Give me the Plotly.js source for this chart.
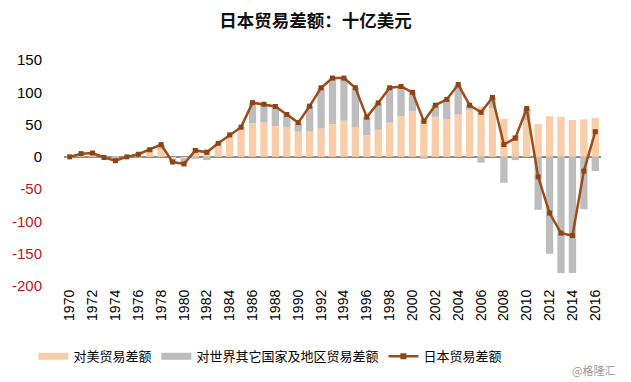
<!DOCTYPE html>
<html>
<head>
<meta charset="utf-8">
<script src="https://cdn.plot.ly/plotly-3.0.1.min.js"></script>
<style>html,body{margin:0;padding:0;background:#fff;}#chart{width:631px;height:382px;}</style>
</head>
<body>
<div id="chart"></div>
<script>
const years = [1970,1971,1972,1973,1974,1975,1976,1977,1978,1979,1980,1981,1982,1983,1984,1985,1986,1987,1988,1989,1990,1991,1992,1993,1994,1995,1996,1997,1998,1999,2000,2001,2002,2003,2004,2005,2006,2007,2008,2009,2010,2011,2012,2013,2014,2015,2016];
const usBalance = [1,3,4,1,1,1,5,8,11,-3,-2,13,12,19,33,44,52,53,47.5,45.5,39,39,44,50.6,56,45.5,33.6,42,53,63,71,58,62,58,65.6,73,78,75,59,34,57,51,63,62,57,58,60];
const otherBalance = [-1,2,2,-2,-7,-1,-1,3,8,-5,-9,-3,-5,2,1,2,32,28.5,30.5,20,14,39.5,63,71.4,66,61.5,28,41.6,54,46,29,-3,18,31,46,7,-9,17,-40,-5,18,-82,-150,-180,-180,-81,-22];
const totalBalance = [0,5,6,-1,-6,0,4,11,19,-8,-11,10,7,21,34,46,84,81.5,78,65.6,53,78.5,107,122,122,107,61.5,83.6,107,109,100,55,80,89,112,80,69,92,19,29,75,-31,-87,-118,-122,-22,39];
const yTickVals = [150,100,50,0,-50,-100,-150,-200];
const yTickText = ['150','100','50','0','<span style="color:#C0142B">-50</span>','<span style="color:#C0142B">-100</span>','<span style="color:#C0142B">-150</span>','<span style="color:#C0142B">-200</span>'];
const xTickVals = [1970,1972,1974,1976,1978,1980,1982,1984,1986,1988,1990,1992,1994,1996,1998,2000,2002,2004,2006,2008,2010,2012,2014,2016];
const seriesNames = ['对美贸易差额','对世界其它国家及地区贸易差额','日本贸易差额'];
const usColor = '#F9CDA8', otherColor = '#BDBDBD', lineColor = '#9C4E1A';

const traces = [
  {type:'bar', x:years, y:usBalance, name:seriesNames[0], marker:{color:usColor}, showlegend:false},
  {type:'bar', x:years, y:otherBalance, name:seriesNames[1], marker:{color:otherColor}, showlegend:false},
  {type:'scatter', mode:'lines+markers', x:years, y:totalBalance, name:seriesNames[2], showlegend:false,
   line:{color:lineColor, width:2.5}, marker:{symbol:'square', size:5, color:'#8A4417'}},
  {type:'scatter', mode:'lines', x:[null], y:[null], name:seriesNames[0], line:{color:usColor, width:7}},
  {type:'scatter', mode:'lines', x:[null], y:[null], name:seriesNames[1], line:{color:otherColor, width:7}},
  {type:'scatter', mode:'lines+markers', x:[null], y:[null], name:seriesNames[2],
   line:{color:lineColor, width:2.5}, marker:{symbol:'square', size:6, color:'#8A4417'}}
];

const layout = {
  width:631, height:382,
  margin:{l:64, r:30, t:60, b:95},
  paper_bgcolor:'#fff', plot_bgcolor:'#fff',
  barmode:'relative', bargap:0.36,
  font:{family:'Arial, "Liberation Sans", "Noto Sans CJK SC", sans-serif', color:'#000'},
  title:{text:'日本贸易差额：十亿美元', x:0.5, xanchor:'center', y:0.945, yanchor:'middle',
         font:{family:'"Noto Sans CJK SC", sans-serif', size:17.5, color:'#111', weight:'bold'}},
  xaxis:{range:[1969.5,2016.5], tickvals:xTickVals, ticktext:xTickVals.map(String), tickangle:-90,
         tickfont:{size:14, color:'#000'}, showgrid:false, zeroline:false, showline:false, ticks:'', ticklen:0},
  yaxis:{range:[-200,150], tickvals:yTickVals, ticktext:yTickText, tickfont:{size:15, color:'#000'},
         showgrid:false, zeroline:true, zerolinecolor:'#8C8C8C', zerolinewidth:1.5, showline:false,
         ticks:'outside', ticklen:18, tickcolor:'rgba(255,255,255,0)'},
  showlegend:true,
  legend:{orientation:'h', x:-0.057, xanchor:'left', y:-0.305, yanchor:'middle',
          font:{family:'"Noto Sans CJK SC", sans-serif', size:13, color:'#000'}, traceorder:'normal'},
  annotations:[
    {text:'@格隆汇', xref:'paper', yref:'paper', x:1.03, y:-0.37, xanchor:'right', yanchor:'middle', showarrow:false,
     font:{family:'"Noto Sans CJK SC", sans-serif', size:11, color:'#999'}}
  ]
};
Plotly.newPlot('chart', traces, layout, {displayModeBar:false, staticPlot:true});
</script>
</body>
</html>
